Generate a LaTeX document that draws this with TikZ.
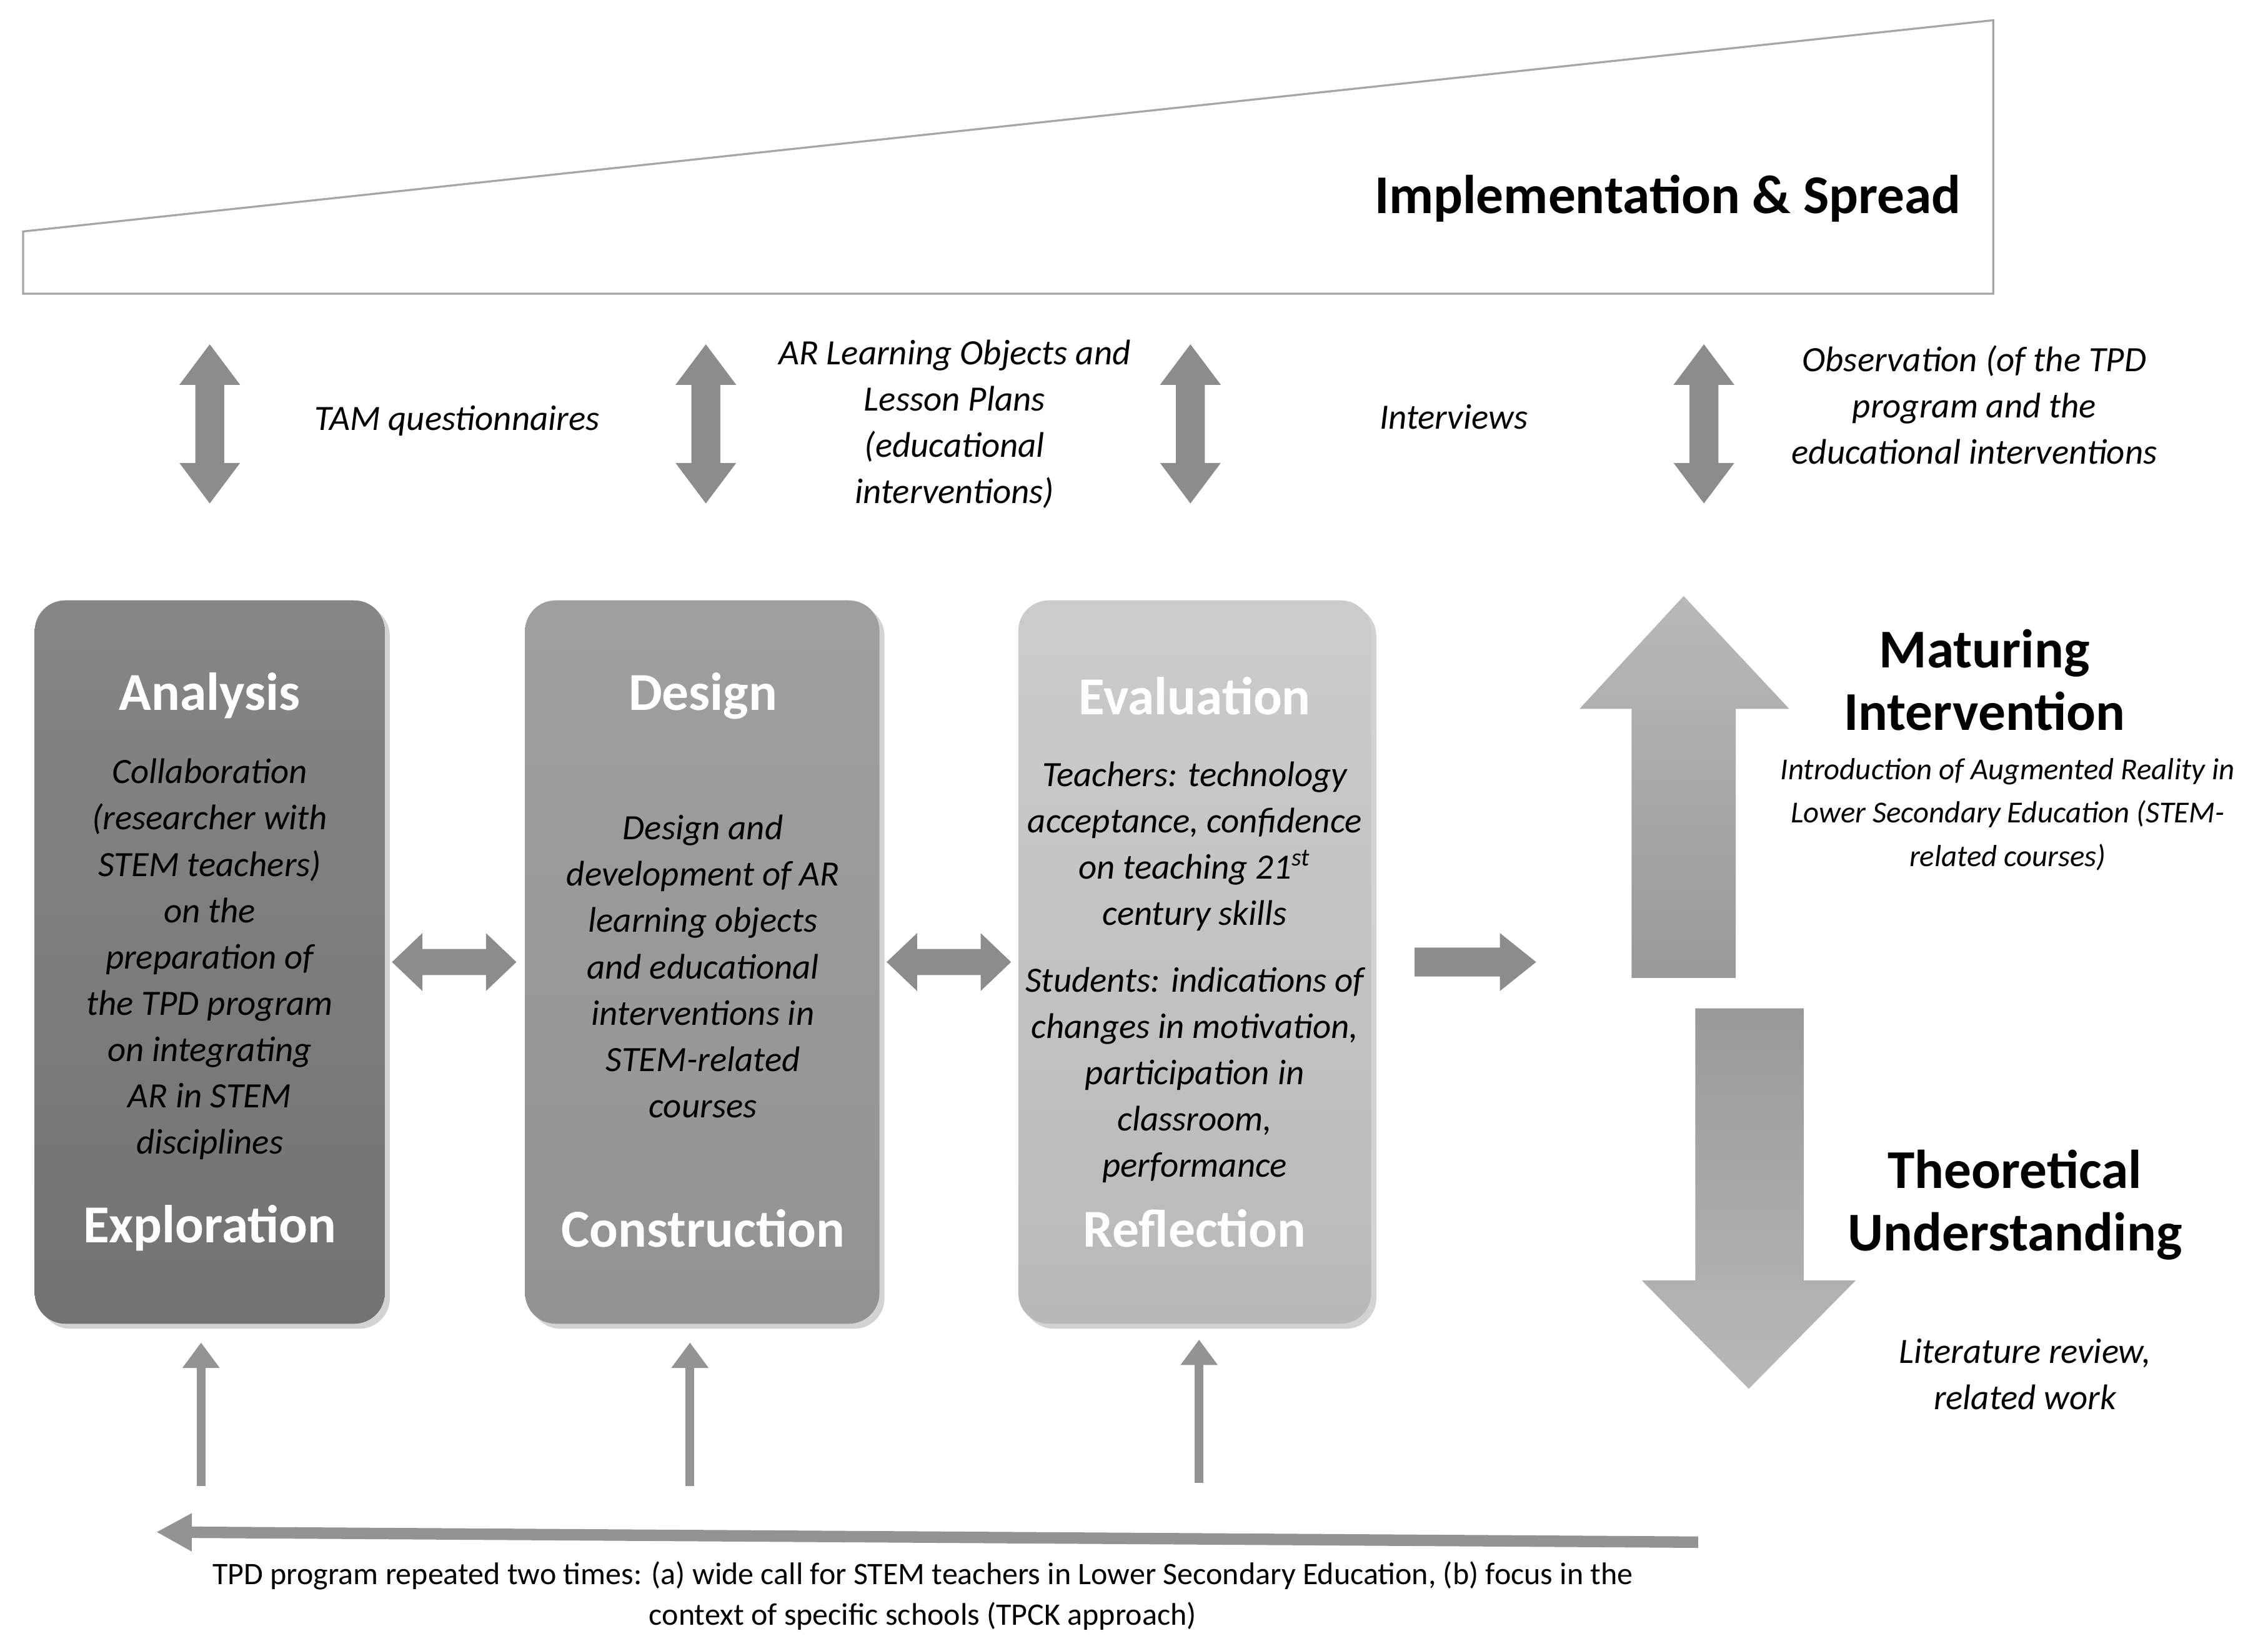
\documentclass[tikz,border=0pt]{standalone}
\usepackage{fontspec}
\setmainfont{Carlito}
\usetikzlibrary{shadows,arrows.meta}
\begin{document}
\begin{tikzpicture}[x=0.02cm,y=-0.02cm,
 body/.style={align=center,font=\fontsize{14}{18.2}\selectfont\itshape,text=black},
 ttl/.style={font=\fontsize{21}{24}\selectfont\bfseries,text=white},
 big/.style={align=center,font=\fontsize{21.5}{24.5}\selectfont\bfseries},
 box/.style={rounded corners=12pt,drop shadow={opacity=0.35,shadow xshift=2pt,shadow yshift=-2pt}},
 ar/.style={fill=gray!90,draw=none},
 thin/.style={draw=gray!85,line width=3.5pt,-{Triangle[length=10pt,width=14pt]}},
 vda/.pic={\path[ar] (0,-55) -- (21,-27) -- (10,-27) -- (10,27) -- (21,27) -- (0,55) -- (-21,27) -- (-10,27) -- (-10,-27) -- (-21,-27) -- cycle;},
 hda/.pic={\path[ar] (-43,0) -- (-22,-20) -- (-22,-9) -- (22,-9) -- (22,-20) -- (43,0) -- (22,20) -- (22,9) -- (-22,9) -- (-22,20) -- cycle;},
 ra/.pic={\path[ar] (-42,-10) -- (17,-10) -- (17,-20) -- (42,0) -- (17,20) -- (17,10) -- (-42,10) -- cycle;}]
\useasboundingbox (0,0) rectangle (1568,1141);
\draw[gray!70,line width=0.8pt,fill=white] (16,160) -- (1378,14) -- (1378,203) -- (16,203) -- cycle;
\node[big,anchor=east] (impl) at (1362,137) {Implementation \& Spread};
\pic at (145,293) {vda};
\pic at (488,293) {vda};
\pic at (823,293) {vda};
\pic at (1178,293) {vda};
\node[body] (l1) at (316,291) {TAM questionnaires};
\node[body] (l2) at (660,293) {AR Learning Objects and\\Lesson Plans\\(educational\\interventions)};
\node[body] (l3) at (1005,288) {Interviews};
\node[body] (l4) at (1365,280) {Observation (of the TPD\\program and the\\educational interventions};
\path[box,top color=gray!95,bottom color=gray!90!black] (24,415) rectangle (266,915);
\path[box,top color=gray!75,bottom color=gray!85] (363,415) rectangle (608,915);
\path[box,top color=gray!40,bottom color=gray!55] (704,415) rectangle (948,915);
\node[ttl] (a1) at (145,481) {Analysis};
\node[ttl] (a2) at (145,849) {Exploration};
\node[ttl] (d1) at (486,481) {Design};
\node[ttl] (d2) at (486,849) {Construction};
\node[ttl] (e1) at (826,481) {Evaluation};
\node[ttl] (e2) at (826,849) {Reflection};
\node[body] (ab) at (145,663) {Collaboration\\(researcher with\\STEM teachers)\\on the\\preparation of\\the TPD program\\on integrating\\AR in STEM\\disciplines};
\node[body] (db) at (486,668) {Design and\\development of AR\\learning objects\\and educational\\interventions in\\STEM-related\\courses};
\node[body] (eb1) at (826,585) {Teachers: technology\\acceptance, confidence\\on teaching 21\textsuperscript{st}\\century skills};
\node[body] (eb2) at (826,743) {Students: indications of\\changes in motivation,\\participation in\\classroom,\\performance};
\pic at (314,665) {hda};
\pic at (656,665) {hda};
\pic at (1020,665) {ra};
\path[top color=gray!55,bottom color=gray!80] (1128,676) -- (1128,490) -- (1092,490) -- (1164,412) -- (1237,490) -- (1200,490) -- (1200,676) -- cycle;
\path[top color=gray!80,bottom color=gray!55] (1172,697) -- (1247,697) -- (1247,885) -- (1283,885) -- (1209,960) -- (1135,885) -- (1172,885) -- cycle;
\node[big] (mi) at (1372,470) {Maturing\\Intervention};
\node[align=center,font=\fontsize{12}{17}\selectfont\itshape] (mit) at (1388,563) {Introduction of Augmented Reality in\\Lower Secondary Education (STEM-\\related courses)};
\node[big] (tu) at (1393,833) {Theoretical\\Understanding};
\node[body] (lit) at (1400,950) {Literature review,\\related work};
\coordinate (s1) at (139,1027); \coordinate (t1) at (139,928);
\coordinate (s2) at (477,1027); \coordinate (t2) at (477,928);
\coordinate (s3) at (829,1025); \coordinate (t3) at (829,926);
\draw[thin] (s1) -- (t1);
\draw[thin] (s2) -- (t2);
\draw[thin] (s3) -- (t3);
\coordinate (la) at (1174,1066); \coordinate (lb) at (108,1059);
\draw[draw=gray!85,line width=4.5pt,-{Triangle[length=14pt,width=14pt]}] (la) -- (lb);
\node[align=center,font=\fontsize{12.3}{16}\selectfont] (bt) at (638,1103) {TPD program repeated two times: (a) wide call for STEM teachers in Lower Secondary Education, (b) focus in the\\context of specific schools (TPCK approach)};
\end{tikzpicture}
\end{document}
